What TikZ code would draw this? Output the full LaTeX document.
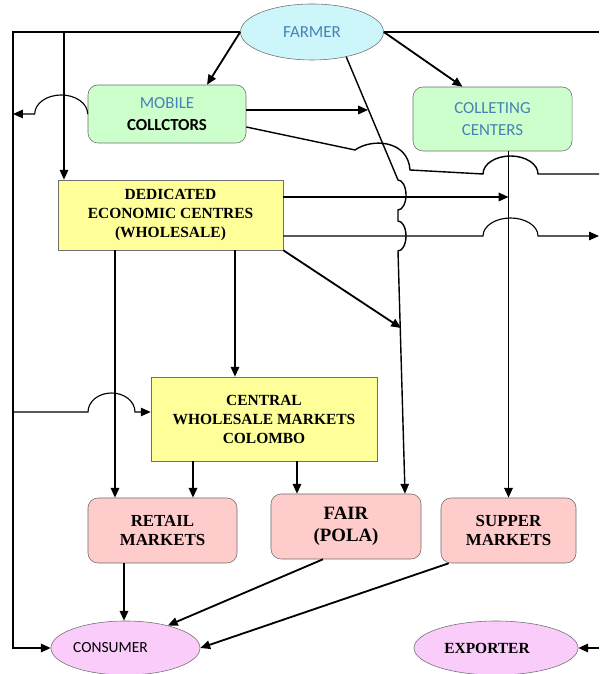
\documentclass[tikz,border=0pt]{standalone}
\usepackage{fontspec}
\setmainfont{Liberation Serif}
\newfontfamily\calib{Carlito}
\usetikzlibrary{arrows.meta, shapes.geometric}

\definecolor{farmfill}{RGB}{204,246,250}
\definecolor{greenfill}{RGB}{204,255,204}
\definecolor{yelfill}{RGB}{255,255,153}
\definecolor{pinkfill}{RGB}{255,204,204}
\definecolor{violfill}{RGB}{250,204,250}
\definecolor{txtblue}{RGB}{70,130,180}
\definecolor{edgegray}{RGB}{110,110,110}

\tikzset{
  arr/.style={-{Triangle[length=7pt,width=6pt]}, line width=1.3pt},
  thinarr/.style={-{Triangle[length=7pt,width=6pt]}, line width=0.8pt},
  link/.style={line width=1.3pt},
  thinlink/.style={line width=0.8pt},
  greenbox/.style={draw=edgegray, fill=greenfill, rounded corners=0.25cm, align=center,
    font=\calib\fontsize{12}{15.5}\selectfont, inner sep=0pt},
  yelbox/.style={draw=edgegray, fill=yelfill, align=center,
    font=\bfseries\fontsize{11}{13.5}\selectfont, inner sep=0pt},
  pinkbox/.style={draw=edgegray, fill=pinkfill, rounded corners=0.25cm, align=center,
    font=\bfseries\fontsize{12}{14}\selectfont, inner sep=0pt},
  oval/.style={ellipse, draw=edgegray, inner sep=0pt}
}

\begin{document}
\begin{tikzpicture}[x=0.025cm, y=0.025cm]
  \useasboundingbox (0,0) rectangle (599,674);

  \node[oval, fill=farmfill, minimum width=3.575cm, minimum height=1.4cm, text=txtblue,
    font=\calib\fontsize{12}{14}\selectfont] (farmer) at (312,642) {FARMER};
  \node[greenbox, minimum width=3.95cm, minimum height=1.45cm] (mob) at (167,560)
    {\textcolor{txtblue}{MOBILE}\\\textbf{COLLCTORS}};
  \node[greenbox, text=txtblue, minimum width=3.975cm, minimum height=1.6cm] (coll) at (492.5,555)
    {COLLETING\\CENTERS};
  \node[yelbox, minimum width=5.625cm, minimum height=1.75cm] (dec) at (170.5,459)
    {DEDICATED\\ECONOMIC CENTRES\\(WHOLESALE)};
  \node[yelbox, minimum width=5.65cm, minimum height=2.1cm] (cwm) at (264,255)
    {CENTRAL\\WHOLESALE MARKETS\\COLOMBO};
  \node[pinkbox, minimum width=3.725cm, minimum height=1.625cm] (retail) at (162.5,143.5)
    {RETAIL\\MARKETS};
  \node[pinkbox, minimum width=3.75cm, minimum height=1.625cm,
    font=\bfseries\fontsize{13.4}{15.6}\selectfont] (fair) at (346,147.5) {FAIR\\(POLA)};
  \node[pinkbox, minimum width=3.375cm, minimum height=1.625cm] (supper) at (508.5,143.5)
    {SUPPER\\MARKETS};
  \node[oval, fill=violfill, minimum width=3.725cm, minimum height=1.35cm,
    font=\calib\fontsize{11}{13}\selectfont] (consumer) at (125.5,26) {\hspace*{-0.75cm}CONSUMER};
  \node[oval, fill=violfill, minimum width=4.1cm, minimum height=1.35cm,
    font=\bfseries\fontsize{11}{13}\selectfont] (exporter) at (496,26) {\hspace*{-0.45cm}EXPORTER};

  \coordinate (tl) at (13,642);
  \coordinate (bl) at (13,26);
  \coordinate (tr) at (599,642);
  \coordinate (dtop) at (64,642);
  \coordinate (lmw) at (13,560);
  \coordinate (lcw) at (13,262);
  \coordinate (hit1) at (368,564);
  \coordinate (hit2) at (401,346);
  \coordinate (rmob) at (599,500);
  \coordinate (rdec) at (599,438);
  \coordinate (rexp) at (599,26);
  \coordinate (d1) at ([yshift=0.45cm]dec.east);
  \coordinate (d2) at ([yshift=-0.525cm]dec.east);

  \draw[arr] (farmer.west) -- (tl) -- (bl) -- (consumer.west);
  \draw[link] (farmer.east) -- (tr);
  \draw[arr] (dtop) -- (dtop |- dec.north);
  \draw[arr] (farmer.west) -- ([xshift=1cm]mob.north);
  \draw[arr] (farmer.east) -- ([xshift=-0.75cm]coll.north);
  \draw[thinarr, line width=1pt] (farmer.-36) -- (398,494)
    arc[start angle=90, end angle=-90, x radius=8, y radius=15]
    -- (398,453) arc[start angle=90, end angle=-90, x radius=8, y radius=15]
    -- ([xshift=1.475cm]fair.north);

  \draw[thinarr] (mob.west) arc[start angle=0, end angle=180, x radius=26.5, y radius=19] -- (lmw);
  \draw[arr] (mob.east |- hit1) -- (hit1);
  \draw[thinlink, line width=1pt] ([yshift=-0.325cm]mob.east) -- (355,524)
    .. controls (372,536) and (408,534) .. (410,504)
    -- (483,500) arc[start angle=180, end angle=0, x radius=27.5, y radius=18] -- (rmob);

  \draw[arr] (d1) -- (d1 -| supper.north);
  \draw[thinarr] (d2) -- (483,438) arc[start angle=180, end angle=0, x radius=27.5, y radius=18] -- (rdec);
  \draw[arr] (dec.south east) -- (hit2);
  \draw[arr] (115,0 |- dec.south) -- (115,0 |- retail.north);
  \draw[arr] (235,0 |- dec.south) -- (235,0 |- cwm.north);
  \draw[thinarr] (lcw) -- (88,262) arc[start angle=180, end angle=0, x radius=23.5, y radius=19]
    -- (lcw -| cwm.west);
  \draw[arr] (193,0 |- cwm.south) -- (193,0 |- retail.north);
  \draw[arr] (297,0 |- cwm.south) -- (297,0 |- fair.north);
  \draw[arr] (coll.south -| supper.north) -- (supper.north);

  \draw[arr] (124,0 |- retail.south) -- (124,0 |- consumer.north);
  \draw[arr] ([xshift=-0.575cm]fair.south) -- (consumer.28);
  \draw[arr] ([xshift=0.2cm]supper.south west) -- (consumer.east);
  \draw[arr] (rexp) -- (exporter.east);
\end{tikzpicture}
\end{document}
